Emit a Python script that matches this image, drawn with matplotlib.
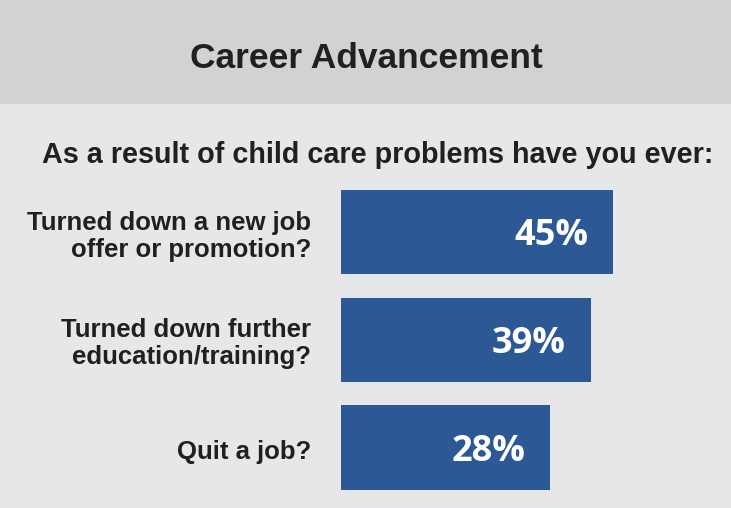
import matplotlib
matplotlib.use("Agg")
import matplotlib.pyplot as plt
from matplotlib.patches import Rectangle

# ---- data ----
title = "Career Advancement"
subtitle = "As a result of child care problems have you ever:"
categories = ["Turned down a new job\noffer or promotion?",
              "Turned down further\neducation/training?",
              "Quit a job?"]
values = [45, 39, 28]
value_labels = ["45%", "39%", "28%"]

# ---- style ----
W, H, DPI = 731, 508, 100
HEADER_BG = "#d1d2d4"
BODY_BG = "#e6e7e8"
BAR_COLOR = "#2c5896"
TEXT_COLOR = "#231f20"
BAR_START = -28.4          # value-axis position where bars begin
XMAX = 76.8

fig = plt.figure(figsize=(W / DPI, H / DPI), dpi=DPI)
fig.patch.set_facecolor(BODY_BG)

# header band
fig.add_artist(Rectangle((0, 1 - 104 / H), 1, 104 / H, transform=fig.transFigure,
                         facecolor=HEADER_BG, edgecolor="none", zorder=0))

fig.text(366 / W, 1 - 58 / H, title, ha="center", va="center",
         fontsize=25.5, fontweight="bold", color=TEXT_COLOR,
         family=["Liberation Sans", "DejaVu Sans"])
fig.text(378 / W, 1 - 155 / H, subtitle, ha="center", va="center",
         fontsize=20.7, fontweight="bold", color=TEXT_COLOR,
         family=["Liberation Sans", "DejaVu Sans"])

# bar axes
ax_left, ax_top, ax_bottom = 341, 178, 500
ax = fig.add_axes([ax_left / W, 1 - ax_bottom / H, (W - ax_left) / W, (ax_bottom - ax_top) / H])
ax.set_facecolor("none")
pos = list(range(len(values)))
ax.barh(pos, [v - BAR_START for v in values], left=BAR_START, height=0.78,
        color=BAR_COLOR, edgecolor="none")
ax.set_xlim(BAR_START, XMAX)
ax.set_ylim(2.487, -0.501)

for p, v, lab in zip(pos, values, value_labels):
    ax.annotate(lab, xy=(v, p), xytext=(-18, -3), textcoords="offset points",
                ha="right", va="center", fontsize=26, fontweight="bold",
                color="white", family=["Open Sans", "DejaVu Sans"])

for p, cat in zip(pos, categories):
    ax.annotate(cat, xy=(BAR_START, p), xytext=(-21.6, -3), textcoords="offset points",
                ha="right", va="center", multialignment="right",
                fontsize=18.5, fontweight="bold", color=TEXT_COLOR,
                family=["Liberation Sans", "DejaVu Sans"], linespacing=1.15,
                annotation_clip=False)

ax.set_xticks([])
ax.set_yticks([])
for s in ax.spines.values():
    s.set_visible(False)

fig.savefig("out.png", dpi=DPI, facecolor=fig.get_facecolor())
